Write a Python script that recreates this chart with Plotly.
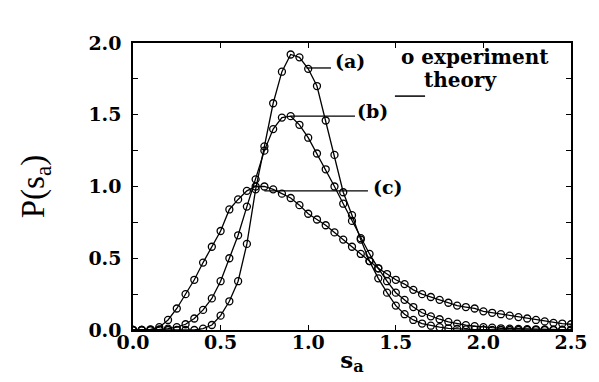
import plotly.graph_objects as go

# s_a grid (step 0.05) and P(s_a) for the three cases
s_a = [round(i * 0.05, 2) for i in range(51)]

p_a = [0, 0, 0, 0, 0, 0, 0, 0, 0.01, 0.035,
       0.1, 0.2, 0.34, 0.6, 0.98, 1.28, 1.58, 1.8, 1.92, 1.9,
       1.82, 1.7, 1.46, 1.22, 0.96, 0.8, 0.63, 0.48, 0.36, 0.26,
       0.17, 0.11, 0.07, 0.045, 0.03, 0.02, 0.012, 0.008, 0.005, 0.003,
       0.002, 0.001, 0, 0, 0, 0, 0, 0, 0, 0, 0]

p_b = [0, 0, 0, 0.005, 0.01, 0.02, 0.04, 0.08, 0.14, 0.22,
       0.34, 0.5, 0.66, 0.86, 1.05, 1.25, 1.4, 1.48, 1.49, 1.43,
       1.34, 1.23, 1.12, 1.0, 0.88, 0.76, 0.64, 0.53, 0.43, 0.34,
       0.26, 0.21, 0.16, 0.12, 0.095, 0.075, 0.057, 0.044, 0.034, 0.027,
       0.02, 0.016, 0.012, 0.01, 0.008, 0.006, 0.005, 0.004, 0.003, 0.002, 0.002]

p_c = [0, 0, 0.005, 0.02, 0.07, 0.15, 0.25, 0.35, 0.47, 0.58,
       0.69, 0.84, 0.91, 0.97, 1.0, 1.0, 0.98, 0.95, 0.92, 0.87,
       0.81, 0.77, 0.73, 0.68, 0.63, 0.58, 0.53, 0.48, 0.43, 0.39,
       0.35, 0.32, 0.28, 0.25, 0.23, 0.21, 0.19, 0.17, 0.16, 0.15,
       0.13, 0.12, 0.11, 0.10, 0.09, 0.08, 0.07, 0.06, 0.05, 0.045, 0.04]

curves = [("(a)", p_a), ("(b)", p_b), ("(c)", p_c)]

# label positions: text (x, y) and leader line (x0, x1, y)
labels = {
    "(a)": (1.24, 1.875, 0.99, 1.13, 1.826),
    "(b)": (1.365, 1.526, 0.9, 1.267, 1.49),
    "(c)": (1.455, 1.0, 0.75, 1.341, 0.969),
}

serif = "DejaVu Serif"

fig = go.Figure()
for name, p in curves:
    fig.add_trace(go.Scatter(
        x=s_a, y=p, mode="lines+markers", name=name,
        line=dict(color="black", width=1.3),
        marker=dict(symbol="circle-open", size=7, color="black",
                    line=dict(width=1.3, color="black")),
    ))

for name, (tx, ty, x0, x1, ly) in labels.items():
    fig.add_shape(type="line", x0=x0, x1=x1, y0=ly, y1=ly,
                  line=dict(color="black", width=1.3))
    fig.add_annotation(x=tx, y=ty, text="<b>%s</b>" % name, showarrow=False,
                       font=dict(family=serif, size=19, color="black"))

# legend drawn as text
fig.add_annotation(x=1.95, y=1.9, text="<b>o experiment</b>", showarrow=False,
                   font=dict(family=serif, size=20, color="black"))
fig.add_annotation(x=1.87, y=1.74, text="<b>theory</b>", showarrow=False,
                   font=dict(family=serif, size=20, color="black"))
fig.add_shape(type="line", x0=1.495, x1=1.667, y0=1.63, y1=1.63,
              line=dict(color="black", width=1.5))

fig.update_xaxes(
    range=[0, 2.5], dtick=0.5, tickformat=".1f",
    showline=True, linewidth=1.5, linecolor="black", mirror="ticks",
    ticks="inside", ticklen=5, tickcolor="black",
    ticklabelstandoff=-6,
    showgrid=False, zeroline=False,
    tickfont=dict(family=serif, size=19, color="black", weight="bold"),
    title=dict(text="<b>s<sub>a</sub></b>", standoff=0,
               font=dict(family=serif, size=23, color="black")),
)
fig.update_yaxes(
    range=[0, 2.0], dtick=0.5, tickformat=".1f",
    showline=True, linewidth=1.5, linecolor="black", mirror="ticks",
    ticks="inside", ticklen=5, tickcolor="black",
    ticklabelstandoff=6,
    minor=dict(dtick=0.25, ticks="inside", ticklen=5, tickcolor="black"),
    showgrid=False, zeroline=False,
    tickfont=dict(family=serif, size=19, color="black", weight="bold"),
    title=dict(text="P(s<sub>a</sub>)", standoff=34,
               font=dict(family="Liberation Serif", size=33, color="black")),
)

fig.update_layout(
    width=599, height=382,
    margin=dict(l=125, r=36, t=35, b=60),
    plot_bgcolor="white", paper_bgcolor="white",
    showlegend=False,
)

fig.write_html("out.html")
